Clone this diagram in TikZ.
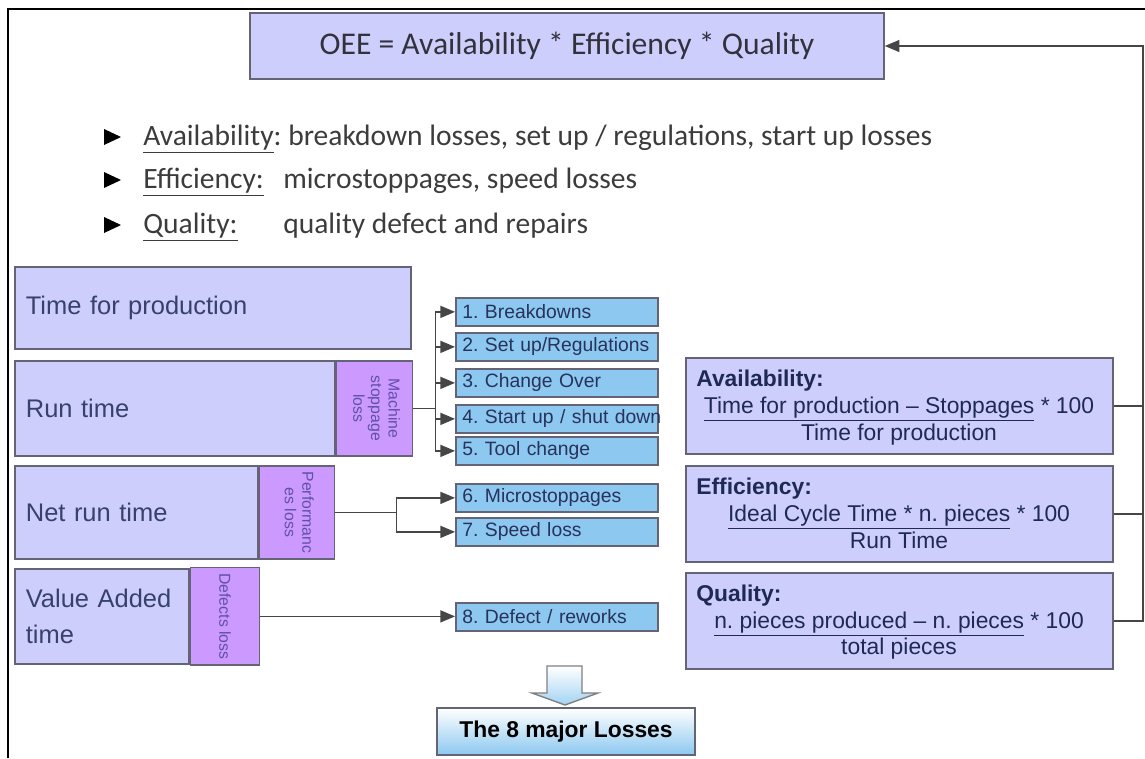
\documentclass[tikz,border=0pt]{standalone}
\usepackage{fontspec}
\usepackage{graphicx}
\setmainfont{Carlito}
\newfontfamily\arialfont{Liberation Sans}
\usetikzlibrary{arrows,positioning,shadings}
\frenchspacing
\definecolor{lav}{RGB}{206,206,252}
\definecolor{purp}{RGB}{204,153,255}
\definecolor{sky}{RGB}{140,200,240}
\definecolor{rim}{RGB}{100,100,118}
\definecolor{ink}{RGB}{55,65,110}
\definecolor{navy}{RGB}{30,42,85}
\definecolor{wirec}{RGB}{70,70,70}
\definecolor{losstxt}{RGB}{95,80,170}
\definecolor{itemtxt}{RGB}{40,50,90}
\definecolor{bullettxt}{RGB}{60,60,60}
\definecolor{oeetxt}{RGB}{50,50,60}
\tikzset{
timebox/.style={draw=rim,line width=1pt,fill=lav,anchor=north west,align=left,inner xsep=0.22cm,text=ink,font=\arialfont\fontsize{14.5}{21}\selectfont},
lossbox/.style={draw=rim,line width=1pt,fill=purp,text=losstxt,font=\arialfont\fontsize{9}{10}\selectfont},
itembox/.style={draw=rim,line width=1pt,fill=sky,anchor=north west,minimum width=4.04cm,minimum height=0.56cm,inner xsep=0.13cm,inner ysep=0pt,text width=3.78cm,align=left,text=itemtxt,font=\arialfont\fontsize{11}{12}\selectfont},
ratiobox/.style={draw=rim,line width=1pt,fill=lav,anchor=north west,minimum width=8.54cm,minimum height=1.92cm},
ratiohead/.style={anchor=base west,inner sep=0pt,text=navy,font=\arialfont\bfseries\fontsize{13}{14}\selectfont},
ratioline/.style={anchor=base,inner sep=0pt,text=navy,font=\arialfont\fontsize{13}{14}\selectfont},
bullet/.style={anchor=base west,inner sep=0pt,text=bullettxt,font=\fontsize{16.8}{18}\selectfont},
wire/.style={draw=wirec,line width=0.9pt}
}
\begin{document}
\begin{tikzpicture}[x=0.02cm,y=-0.02cm]
\useasboundingbox (0,0) rectangle (1145,758);

\draw[line width=1.1pt] (8,758) -- (8,9) -- (1145,9);

\node[draw=rim,line width=1pt,fill=lav,minimum width=12.68cm,minimum height=1.32cm,text=oeetxt,font=\fontsize{18}{20}\selectfont] (oee) at (567,46) {OEE = Availability * Efficiency * Quality};

\foreach \y in {137,180,225}
\fill (104,\y-8) -- (121,\y) -- (104,\y+8) -- cycle;
\node[bullet] (avl) at (143,145) {\underline{Availability}: breakdown losses, set up / regulations, start up losses};
\node[bullet] (eff) at (143,188) {\underline{Efficiency:}};
\node[bullet] (effd) at (283,188) {microstoppages, speed losses};
\node[bullet] (qua) at (143,233) {\underline{Quality:}};
\node[bullet] (quad) at (283,233) {quality defect and repairs};

\node[timebox,minimum height=1.64cm,text width=7.48cm] (tfp) at (14,266) {Time for production};
\node[timebox,minimum height=1.9cm,text width=5.96cm] (run) at (14,360) {Run time};
\node[lossbox,right=0pt of run,minimum width=1.52cm,minimum height=1.9cm] (runloss) {\rotatebox{-90}{\begin{tabular}{@{}c@{}}Machine\\stoppage\\loss\end{tabular}}};
\node[timebox,minimum height=1.86cm,text width=4.42cm] (net) at (14,465) {Net run time};
\node[lossbox,right=0pt of net,minimum width=1.5cm,minimum height=1.86cm] (netloss) {\rotatebox{-90}{\begin{tabular}{@{}c@{}}Performanc\\es loss\end{tabular}}};
\node[timebox,minimum height=1.9cm,text width=3.04cm] (vat) at (14,568) {Value Added\\time};
\node[lossbox,right=0pt of vat,minimum width=1.38cm,minimum height=1.9cm] (vatloss) {\rotatebox{-90}{Defects loss}};

\foreach \txt/\y [count=\i] in {{1. Breakdowns}/297,{2. Set up/Regulations}/332,{3. Change Over}/368,{4. Start up / shut down}/404,{5. Tool change}/436,{6. Microstoppages}/483,{7. Speed loss}/517,{8. Defect / reworks}/602}
\node[itembox] (l\i) at (455,\y) {\mbox{\txt}};

\coordinate (runfork) at ([xshift=0.44cm]runloss.east);
\draw[wire] (runloss.east) -- (runfork);
\foreach \i in {1,...,5}
\draw[wire,-triangle 45] (runfork) |- (l\i.west);
\coordinate (netfork) at ([xshift=1.22cm]netloss.east);
\draw[wire] (netloss.east) -- (netfork);
\foreach \i in {6,7}
\draw[wire,-triangle 45] (netfork) |- (l\i.west);
\draw[wire,-triangle 45] (vatloss.east) -- (vatloss.east -| l8.west);

\node[ratiobox] (avail) at (685,357) {};
\node[ratiohead] (availhead) at (696,386) {Availability:};
\node[ratioline] (availnum) at (899,413) {\underline{Time for production – Stoppages} * 100};
\node[ratioline] (availden) at (899,440) {Time for production};
\node[ratiobox] (effic) at (685,465) {};
\node[ratiohead] (effichead) at (696,494) {Efficiency:};
\node[ratioline] (efficnum) at (899,521) {\underline{Ideal Cycle Time * n. pieces} * 100};
\node[ratioline] (efficden) at (899,548) {Run Time};
\node[ratiobox] (qual) at (685,572) {};
\node[ratiohead] (qualhead) at (696,601) {Quality:};
\node[ratioline] (qualnum) at (899,628) {\underline{n. pieces produced – n. pieces} * 100};
\node[ratioline] (qualden) at (899,654) {total pieces};

\coordinate (rail) at (1143,46);
\draw[wire,-triangle 45] (qual.east) -| (rail) -- (oee.east);
\draw[wire] (avail.east) -- (avail.east -| rail);
\draw[wire] (effic.east) -- (effic.east -| rail);

\node[draw=rim,line width=1pt,top color=white,bottom color=sky,minimum width=5.16cm,minimum height=0.94cm,text=black,font=\arialfont\bfseries\fontsize{13}{14}\selectfont] (major) at (566,731.5) {The 8 major Losses};
\draw[draw=gray,line width=0.8pt,top color=white,bottom color=sky!80] (547,666) -- (582,666) -- (582,693) -- (598,693) -- (565,705) -- (532,693) -- (547,693) -- cycle;

\end{tikzpicture}
\end{document}
